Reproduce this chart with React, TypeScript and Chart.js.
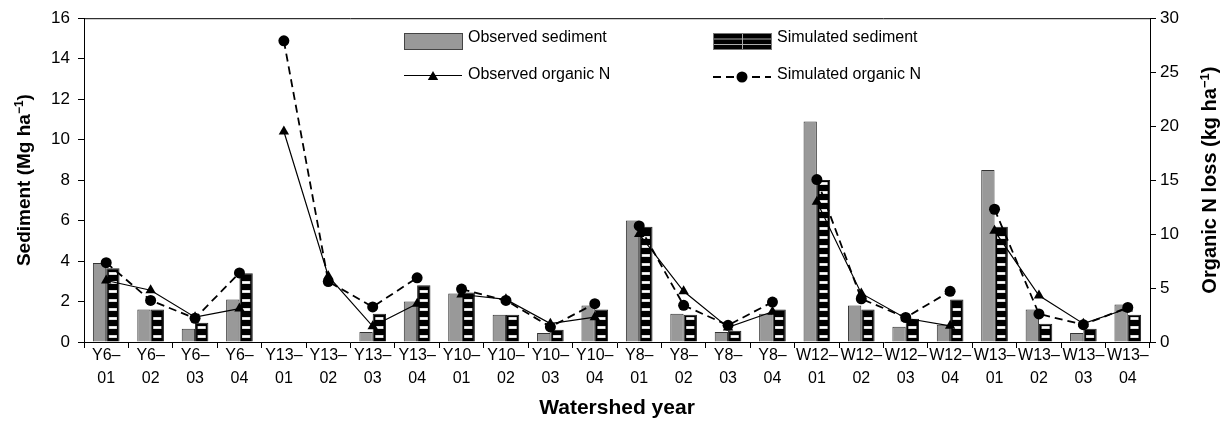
import React, { useEffect, useRef } from "react";
import { Chart, registerables } from "chart.js";

Chart.register(...registerables);

const watersheds = ["Y6", "Y13", "Y10", "Y8", "W12", "W13"];
const years = ["01", "02", "03", "04"];
const categories: string[][] = watersheds.flatMap((w) => years.map((y) => [w + "–", y]));

const obsSediment = [3.9, 1.6, 0.65, 2.1, null, null, 0.5, 2.0, 2.4, 1.35, 0.45, 1.8, 6.0, 1.4, 0.5, 1.4, 10.9, 1.8, 0.75, 0.85, 8.5, 1.6, 0.45, 1.85];
const simSediment = [3.65, 1.6, 0.95, 3.4, null, null, 1.4, 2.8, 2.45, 1.35, 0.6, 1.6, 5.7, 1.35, 0.55, 1.6, 8.0, 1.6, 1.15, 2.1, 5.7, 0.9, 0.65, 1.35];
const obsOrganicN = [5.7, 4.8, 2.3, 3.1, 19.5, 6.1, 1.45, 3.55, 4.4, 3.95, 1.7, 2.3, 10.0, 4.7, 1.35, 2.8, 13.0, 4.5, 2.2, 1.5, 10.3, 4.3, 1.7, 3.1];
const simOrganicN = [7.35, 3.85, 2.2, 6.4, 27.9, 5.6, 3.25, 5.95, 4.9, 3.85, 1.4, 3.55, 10.75, 3.4, 1.55, 3.7, 15.05, 4.0, 2.27, 4.7, 12.3, 2.6, 1.6, 3.2];

const sedimentTicks = { min: 0, max: 16, step: 2 };
const organicNTicks = { min: 0, max: 30, step: 5 };

const FONT = "'Liberation Sans', Arial, sans-serif";

function drawSupTitle(ctx: CanvasRenderingContext2D, main: string, sup: string, tail: string, cx: number, cy: number, size: number) {
  ctx.save();
  ctx.translate(cx, cy);
  ctx.rotate(-Math.PI / 2);
  ctx.fillStyle = "#000";
  ctx.textBaseline = "alphabetic";
  ctx.textAlign = "left";
  const mainFont = `bold ${size}px ${FONT}`;
  const supFont = `bold ${Math.round(size * 0.65)}px ${FONT}`;
  ctx.font = mainFont;
  const wMain = ctx.measureText(main).width;
  const wTail = ctx.measureText(tail).width;
  ctx.font = supFont;
  const wSup = ctx.measureText(sup).width;
  const total = wMain + wSup + wTail;
  let x = -total / 2;
  const base = 7;
  ctx.font = mainFont;
  ctx.fillText(main, x, base);
  x += wMain;
  ctx.font = supFont;
  ctx.fillText(sup, x, base - 7);
  x += wSup;
  ctx.font = mainFont;
  ctx.fillText(tail, x, base);
  ctx.restore();
}

function drawTriangle(ctx: CanvasRenderingContext2D, x: number, y: number, r: number) {
  ctx.beginPath();
  for (let i = 0; i < 3; i++) {
    const a = (i * 2 * Math.PI) / 3;
    const px = x + Math.sin(a) * r;
    const py = y - Math.cos(a) * r;
    if (i === 0) ctx.moveTo(px, py);
    else ctx.lineTo(px, py);
  }
  ctx.closePath();
  ctx.fill();
}

const decorPlugin = {
  id: "decor",
  afterDatasetDraw(chart: any, args: any) {
    if (args.index !== 1) return;
    const ctx = chart.ctx as CanvasRenderingContext2D;
    const area = chart.chartArea;
    ctx.save();
    ctx.beginPath();
    ctx.rect(area.left, area.top, area.right - area.left, area.bottom - area.top);
    ctx.clip();
    args.meta.data.forEach((el: any) => {
      const p = el.getProps(["x", "y", "base", "width"], true);
      if (p.y == null || isNaN(p.y) || p.base - p.y < 3) return;
      const dw = p.width * 0.62;
      for (let yy = p.base - 5; yy > p.y + 2.5; yy -= 9) {
        ctx.fillStyle = "#bdbdbd";
        ctx.fillRect(p.x - dw / 2, yy - 1.5, dw, 3);
        ctx.fillStyle = "#ffffff";
        ctx.fillRect(p.x - dw / 2 + 0.5, yy - 1, dw - 1, 2);
      }
    });
    ctx.restore();
  },
  afterDraw(chart: any) {
    const ctx = chart.ctx as CanvasRenderingContext2D;
    const area = chart.chartArea;
    ctx.save();
    ctx.strokeStyle = "#000";
    ctx.lineWidth = 1;
    ctx.beginPath();
    ctx.moveTo(area.left, area.top + 0.5);
    ctx.lineTo(area.right, area.top + 0.5);
    ctx.stroke();

    ctx.font = `16px ${FONT}`;
    ctx.textBaseline = "middle";
    ctx.textAlign = "left";
    ctx.fillStyle = "#999999";
    ctx.fillRect(404, 33.5, 58, 16);
    ctx.strokeStyle = "#444";
    ctx.strokeRect(404.5, 33.5, 58, 16);
    ctx.fillStyle = "#000";
    ctx.fillText("Observed sediment", 468, 38);
    ctx.fillStyle = "#000";
    ctx.fillRect(713, 33.5, 58, 16);
    ctx.strokeStyle = "#777";
    ctx.strokeRect(713.5, 33.5, 58, 16);
    ctx.strokeStyle = "#aaa";
    ctx.beginPath();
    ctx.moveTo(714, 39); ctx.lineTo(771, 39);
    ctx.moveTo(714, 44.5); ctx.lineTo(771, 44.5);
    ctx.moveTo(742.5, 34); ctx.lineTo(742.5, 49);
    ctx.stroke();
    ctx.fillStyle = "#000";
    ctx.fillText("Simulated sediment", 777, 38);
    ctx.strokeStyle = "#000";
    ctx.lineWidth = 1;
    ctx.beginPath();
    ctx.moveTo(404, 75.5); ctx.lineTo(462, 75.5);
    ctx.stroke();
    ctx.fillStyle = "#000";
    drawTriangle(ctx, 433, 77, 6);
    ctx.fillText("Observed organic N", 468, 75);
    ctx.lineWidth = 2;
    ctx.setLineDash([8, 5]);
    ctx.beginPath();
    ctx.moveTo(713, 77); ctx.lineTo(771, 77);
    ctx.stroke();
    ctx.setLineDash([]);
    ctx.beginPath();
    ctx.arc(742, 77, 5.5, 0, Math.PI * 2);
    ctx.fill();
    ctx.fillText("Simulated organic N", 777, 75);

    const midY = (area.top + area.bottom) / 2;
    drawSupTitle(ctx, "Sediment (Mg ha", "−1", ")", 23, midY, 19);
    drawSupTitle(ctx, "Organic N loss (kg ha", "−1", ")", 1209, midY, 20);
    ctx.font = `bold 21px ${FONT}`;
    ctx.textAlign = "center";
    ctx.textBaseline = "middle";
    ctx.fillText("Watershed year", (area.left + area.right) / 2, 408);
    ctx.restore();
  },
};

const hideBetweenGroups = (ctx: any) => (ctx.p0DataIndex % 4 === 3 ? "rgba(0,0,0,0)" : undefined);

export default function App() {
  const ref = useRef<HTMLCanvasElement | null>(null);
  useEffect(() => {
    document.body.style.margin = "0";
    document.body.style.background = "#fff";
    if (!ref.current) return;
    const chart = new Chart(ref.current, {
      type: "bar",
      data: {
        labels: categories,
        datasets: [
          {
            type: "bar",
            label: "Observed sediment",
            data: obsSediment,
            yAxisID: "y",
            backgroundColor: "#999999",
            borderColor: "#333",
            borderWidth: 1,
            categoryPercentage: 0.6,
            barPercentage: 1.0,
            order: 1,
          },
          {
            type: "bar",
            label: "Simulated sediment",
            data: simSediment,
            yAxisID: "y",
            backgroundColor: "#000",
            borderColor: "#222",
            borderWidth: 1,
            categoryPercentage: 0.6,
            barPercentage: 1.0,
            order: 1,
          },
          {
            type: "line",
            label: "Observed organic N",
            data: obsOrganicN,
            yAxisID: "y1",
            borderColor: "#000",
            backgroundColor: "#000",
            borderWidth: 1.2,
            pointStyle: "triangle",
            pointRadius: 6,
            pointBorderWidth: 0,
            tension: 0,
            segment: { borderColor: hideBetweenGroups },
            order: 0,
          },
          {
            type: "line",
            label: "Simulated organic N",
            data: simOrganicN,
            yAxisID: "y1",
            borderColor: "#000",
            backgroundColor: "#000",
            borderWidth: 1.8,
            borderDash: [8, 5],
            pointStyle: "circle",
            pointRadius: 5.5,
            pointBorderWidth: 0,
            tension: 0,
            segment: { borderColor: hideBetweenGroups },
            order: 0,
          },
        ] as any,
      },
      options: {
        animation: false,
        responsive: false,
        maintainAspectRatio: false,
        layout: { padding: { top: 16, left: 0, right: 0, bottom: 0 } },
        plugins: { legend: { display: false }, tooltip: { enabled: false } },
        scales: {
          x: {
            offset: true,
            grid: { offset: true, drawOnChartArea: false, color: "#000", tickLength: 6, tickColor: "#000" },
            border: { color: "#000", width: 1 },
            ticks: {
              autoSkip: false,
              maxRotation: 0,
              minRotation: 0,
              padding: -4,
              color: "#000",
              font: { family: FONT, size: 16, lineHeight: 1.46 },
            },
            afterFit: (s: any) => {
              s.height = 81;
            },
          },
          y: {
            position: "left",
            min: sedimentTicks.min,
            max: sedimentTicks.max,
            ticks: { stepSize: sedimentTicks.step, color: "#000", padding: 8, font: { family: FONT, size: 17 } },
            grid: { drawOnChartArea: false, color: "#000", tickLength: 6, tickColor: "#000" },
            border: { color: "#000", width: 1 },
            afterFit: (s: any) => {
              s.width = 84;
            },
          },
          y1: {
            position: "right",
            min: organicNTicks.min,
            max: organicNTicks.max,
            ticks: { stepSize: organicNTicks.step, color: "#000", padding: 4, font: { family: FONT, size: 17 } },
            grid: { drawOnChartArea: false, color: "#000", tickLength: 6, tickColor: "#000" },
            border: { color: "#000", width: 1 },
            afterFit: (s: any) => {
              s.width = 75;
            },
          },
        },
      } as any,
      plugins: [decorPlugin],
    });
    return () => chart.destroy();
  }, []);
  return (
    <div style={{ width: 1225, height: 423, background: "#fff" }}>
      <canvas ref={ref} width={1225} height={423} style={{ display: "block" }} />
    </div>
  );
}
